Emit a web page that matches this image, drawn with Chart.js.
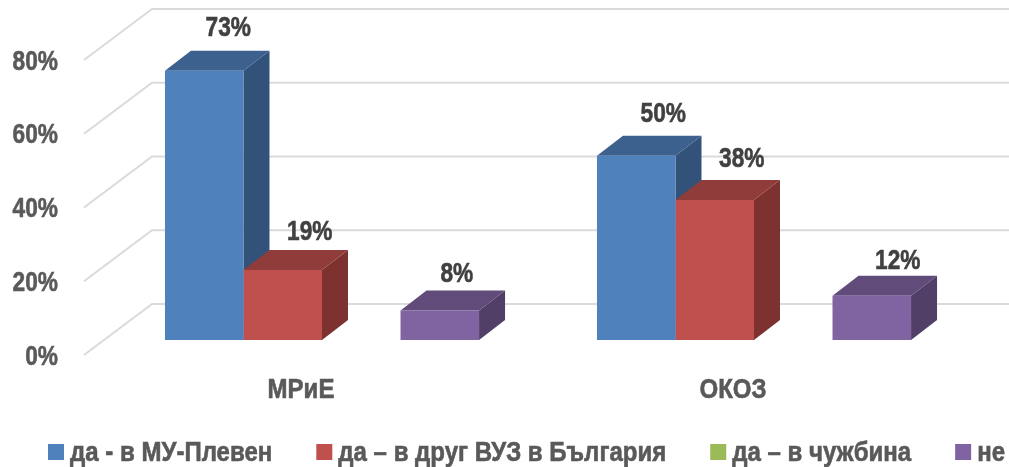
<!DOCTYPE html>
<html>
<head>
<meta charset="utf-8">
<style>
  html, body { margin: 0; padding: 0; background: #fff; }
  canvas { display: block; }
</style>
<script src="https://cdn.jsdelivr.net/npm/chart.js@4/dist/chart.umd.js"></script>
</head>
<body>
<canvas id="myChart" width="1009" height="467"></canvas>
<script>
var categories = ["МРиЕ", "ОКОЗ"];
var seriesNames = ["да - в МУ-Плевен", "да – в друг ВУЗ в България", "да – в чужбина", "не"];
var inPleven = [73, 50];
var otherBg = [19, 38];
var abroad = [null, null];
var noStudy = [8, 12];
var tickValues = [0, 20, 40, 60, 80];

var frontColors = ["#4F81BD", "#C0504D", "#9BBB59", "#8064A2"];
var topColors = ["#3C618E", "#903C3A", "#748C43", "#614B7A"];
var sideColors = ["#325279", "#7D3230", "#5F7337", "#523F68"];

// depth of the bars and of the floor
var barDx = 26, barDy = 20;
var wallDx = 68, wallDy = 51, floorDrop = 15;

// label shift from the bar top centre, [series][category]
var labelShift = [
  [[24, -43], [27, -41]],
  [[27, -38], [27, -41]],
  [null, null],
  [[17, -36], [26, -34]]
];

var FAMILY = '"Liberation Sans", Arial, sans-serif';

function poly(ctx, pts, color) {
  ctx.fillStyle = color;
  ctx.beginPath();
  ctx.moveTo(pts[0][0], pts[0][1]);
  for (var i = 1; i < pts.length; i++) ctx.lineTo(pts[i][0], pts[i][1]);
  ctx.closePath();
  ctx.fill();
}

// the reference font is a narrow one, fillText squeezes to maxWidth
// thin stroke brings back the weight the squeeze takes away
function narrowText(ctx, text, x, y, ratio) {
  var w = ctx.measureText(text).width * ratio;
  ctx.strokeStyle = ctx.fillStyle;
  ctx.lineWidth = 0.6;
  ctx.strokeText(text, x, y, w);
  ctx.fillText(text, x, y, w);
  return w;
}

var walls3d = {
  id: "walls3d",
  beforeDatasetsDraw: function (chart) {
    var ctx = chart.ctx;
    var y = chart.scales.y;
    ctx.save();
    ctx.strokeStyle = "#DADADA";
    ctx.lineWidth = 2;
    tickValues.forEach(function (v) {
      var py = y.getPixelForValue(v) + floorDrop;
      ctx.beginPath();
      ctx.moveTo(84, py);
      ctx.lineTo(84 + wallDx, py - wallDy);
      ctx.lineTo(chart.width, py - wallDy);
      ctx.stroke();
    });
    // sides and tops, left to right, the library paints the fronts after this
    chart.data.labels.forEach(function (c, ci) {
      chart.data.datasets.forEach(function (ds, di) {
        if (ds.data[ci] == null) return;
        var bar = chart.getDatasetMeta(di).data[ci];
        var l = bar.x - bar.width / 2, r = bar.x + bar.width / 2;
        var t = bar.y, b = bar.base;
        poly(ctx, [[r, t], [r + barDx, t - barDy], [r + barDx, b - barDy], [r, b]], sideColors[di]);
        poly(ctx, [[l, t], [l + barDx, t - barDy], [r + barDx, t - barDy], [r, t]], topColors[di]);
      });
    });
    ctx.restore();
  },
  afterDatasetsDraw: function (chart) {
    var ctx = chart.ctx;
    ctx.save();
    ctx.textBaseline = "middle";

    // value labels
    ctx.font = "bold 28px " + FAMILY;
    ctx.fillStyle = "#404040";
    ctx.textAlign = "center";
    chart.data.datasets.forEach(function (ds, di) {
      ds.data.forEach(function (v, ci) {
        if (v == null) return;
        var bar = chart.getDatasetMeta(di).data[ci];
        var s = labelShift[di][ci];
        narrowText(ctx, v + "%", bar.x + s[0], bar.y + s[1], 0.81);
      });
    });

    // axis labels
    ctx.fillStyle = "#595959";
    var xs = chart.scales.x, ys = chart.scales.y;
    ctx.font = "bold 27px " + FAMILY;
    xs.ticks.forEach(function (t, i) {
      narrowText(ctx, t.label, xs.getPixelForTick(i) - 21, 391, 0.89);
    });
    ctx.font = "bold 28px " + FAMILY;
    ctx.textAlign = "right";
    ys.ticks.forEach(function (t, i) {
      narrowText(ctx, t.label, 58, ys.getPixelForTick(i) + floorDrop + 2, 0.81);
    });

    // legend, the library's one would wrap with this spacing
    ctx.font = "bold 27px " + FAMILY;
    ctx.textAlign = "left";
    ctx.textBaseline = "alphabetic";
    var lx = 48;
    chart.data.datasets.forEach(function (ds) {
      ctx.fillStyle = ds.backgroundColor;
      ctx.fillRect(lx, 444, 16, 16);
      ctx.fillStyle = "#595959";
      lx += 22;
      lx += narrowText(ctx, ds.label, lx, 461, 0.89) + 44;
    });
    ctx.restore();
  }
};

var ctx = document.getElementById("myChart").getContext("2d");
var myChart = new Chart(ctx, {
  type: "bar",
  data: {
    labels: categories,
    datasets: [
      { label: seriesNames[0], data: inPleven, backgroundColor: frontColors[0] },
      { label: seriesNames[1], data: otherBg, backgroundColor: frontColors[1] },
      { label: seriesNames[2], data: abroad, backgroundColor: frontColors[2] },
      { label: seriesNames[3], data: noStudy, backgroundColor: frontColors[3] }
    ]
  },
  options: {
    responsive: false,
    animation: false,
    layout: { padding: { top: 45, right: 39, left: 0, bottom: 0 } },
    datasets: { bar: { barPercentage: 1, categoryPercentage: 0.727 } },
    plugins: { legend: { display: false }, tooltip: { enabled: false } },
    scales: {
      x: {
        grid: { display: false },
        border: { display: false },
        afterFit: function (s) { s.height = 127; },
        ticks: { display: false }
      },
      y: {
        min: 0,
        max: 80,
        grid: { display: false },
        border: { display: false },
        afterFit: function (s) { s.width = 106; },
        afterBuildTicks: function (s) {
          s.ticks = tickValues.map(function (v) { return { value: v }; });
        },
        ticks: {
          display: false,
          callback: function (v) { return v + "%"; }
        }
      }
    }
  },
  plugins: [walls3d]
});
</script>
</body>
</html>
